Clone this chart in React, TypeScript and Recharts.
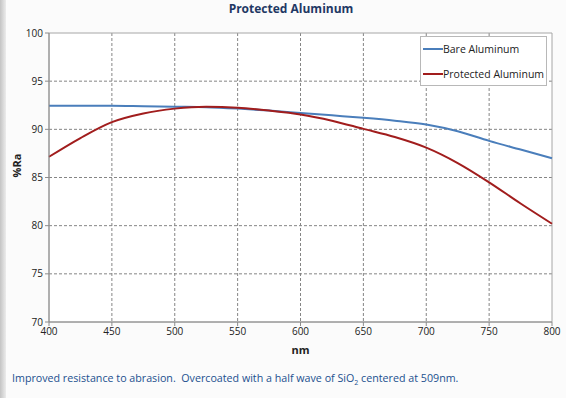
import {
  LineChart,
  Line,
  XAxis,
  YAxis,
  CartesianGrid,
  Legend,
  ReferenceArea,
} from 'recharts';

// wavelength in nm, 25 nm steps
const wavelengths = [400, 425, 450, 475, 500, 525, 550, 575, 600, 625, 650, 675, 700, 725, 750, 775, 800];
const bareAluminum = [92.45, 92.45, 92.45, 92.4, 92.35, 92.3, 92.15, 91.95, 91.7, 91.45, 91.2, 90.9, 90.5, 89.8, 88.8, 87.9, 87.0];
const protectedAluminum = [87.15, 89.1, 90.75, 91.65, 92.15, 92.35, 92.25, 91.95, 91.55, 90.9, 90.05, 89.2, 88.1, 86.5, 84.5, 82.3, 80.2];
const xTicks = [400, 450, 500, 550, 600, 650, 700, 750, 800];
const yTicks = [70, 75, 80, 85, 90, 95, 100];

const data = wavelengths.map((nm, i) => ({
  nm,
  bare: bareAluminum[i],
  protected: protectedAluminum[i],
}));

const FONT = '"Open Sans", "Noto Sans", sans-serif';
const BLUE = '#4a7ebb';
const RED = '#a11d1d';

function LegendBox(props: any) {
  const items = props.payload || [];
  return (
    <div
      style={{
        width: 127,
        height: 50,
        boxSizing: 'border-box',
        background: '#fff',
        border: '1px solid #b8b8b8',
        fontFamily: FONT,
        fontSize: 10.5,
        color: '#222',
        paddingTop: 2,
      }}
    >
      {items.map((it: any) => (
        <div key={it.value} style={{ display: 'flex', alignItems: 'center', height: 19, marginBottom: 6 }}>
          <span style={{ display: 'inline-block', width: 20, height: 2, background: it.color, marginLeft: 2 }} />
          <span>{it.value}</span>
        </div>
      ))}
    </div>
  );
}

export default function App() {
  return (
    <div
      style={{
        position: 'absolute',
        left: 0,
        top: 0,
        width: 566,
        height: 398,
        background: '#fbfbfb',
        fontFamily: FONT,
        overflow: 'hidden',
      }}
    >
      <div
        style={{
          position: 'absolute',
          left: 0,
          top: 0,
          width: 6,
          height: 398,
          background: 'linear-gradient(to right, #c4c4c4, #ececec)',
        }}
      />
      <div
        style={{
          position: 'absolute',
          top: 0,
          left: 0,
          width: 566,
          textAlign: 'center',
          fontWeight: 700,
          fontSize: 12,
          color: '#1f3864',
          lineHeight: '17px',
          paddingLeft: 8,
        }}
      >
        Protected Aluminum
      </div>
      <LineChart
        width={566}
        height={398}
        data={data}
        margin={{ top: 33, right: 14, bottom: 46, left: 9 }}
        style={{ position: 'absolute', left: 0, top: 0 }}
      >
        <CartesianGrid
          stroke="#858585"
          strokeDasharray="3 2"
          fill="#ffffff"
          horizontalValues={[75, 80, 85, 90, 95]}
          verticalValues={[450, 500, 550, 600, 650, 700, 750]}
        />
        <ReferenceArea x1={400} x2={800} y1={70} y2={100} fill="none" stroke="#a6a6a6" strokeWidth={1} />
        <XAxis
          dataKey="nm"
          type="number"
          domain={[400, 800]}
          ticks={xTicks}
          height={30}
          tickSize={4}
          tickMargin={2}
          stroke="#8c8c8c"
          tick={{ fontSize: 10, fill: '#222', fontFamily: FONT }}
          label={{ value: 'nm', position: 'insideBottom', offset: 0, dy: 2, fontSize: 11, fontWeight: 700, fill: '#222', fontFamily: FONT }}
        />
        <YAxis
          type="number"
          domain={[70, 100]}
          ticks={yTicks}
          width={40}
          tickSize={4}
          tickMargin={2}
          stroke="#8c8c8c"
          tick={{ fontSize: 10, fill: '#222', fontFamily: FONT }}
          label={{ value: '%Ra', angle: -90, position: 'insideLeft', offset: 8, fontSize: 11, fontWeight: 700, fill: '#222', fontFamily: FONT }}
        />
        <Legend
          layout="vertical"
          align="center"
          verticalAlign="middle"
          wrapperStyle={{ left: 420, top: 36, width: 127, height: 50 }}
          content={<LegendBox />}
        />
        <Line
          type="monotone"
          dataKey="bare"
          name="Bare Aluminum"
          stroke={BLUE}
          strokeWidth={2}
          dot={false}
          isAnimationActive={false}
        />
        <Line
          type="monotone"
          dataKey="protected"
          name="Protected Aluminum"
          stroke={RED}
          strokeWidth={2}
          dot={false}
          isAnimationActive={false}
        />
      </LineChart>
      <div
        style={{
          position: 'absolute',
          left: 12,
          top: 371,
          fontSize: 10.7,
          color: '#22508f',
          whiteSpace: 'pre',
          lineHeight: '14px',
        }}
      >
        Improved resistance to abrasion.  Overcoated with a half wave of SiO<sub style={{ fontSize: 7 }}>2</sub> centered at 509nm.
      </div>
    </div>
  );
}
